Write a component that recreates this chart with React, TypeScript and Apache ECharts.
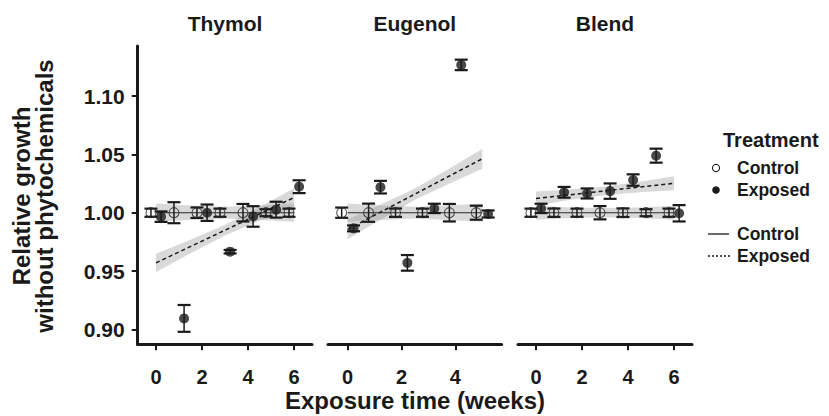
import React, { useEffect, useRef } from "react";
import * as echarts from "echarts";

// ---------------- data ----------------
const panelNames = ["Thymol", "Eugenol", "Blend"];

const weeksThymol = [0, 1, 2, 3, 4, 5, 6];
const weeksEugenol = [0, 1, 2, 3, 4, 5];
const weeksBlend = [0, 1, 2, 3, 4, 5, 6];

const thymolControl = [1.0, 1.0, 1.0, 1.0, 1.0, 1.0, 1.0];
const thymolControlErr = [0.0035, 0.009, 0.0045, 0.0035, 0.0075, 0.003, 0.0035];
const thymolExposed = [0.9966, 0.9094, 1.0, 0.9666, 0.9968, 1.0026, 1.0223];
const thymolExposedErr = [0.0045, 0.0115, 0.007, 0.0015, 0.0088, 0.0068, 0.0055];

const eugenolControl = [1.0, 1.0, 1.0, 1.0, 1.0, 1.0];
const eugenolControlErr = [0.0044, 0.0078, 0.0036, 0.0035, 0.0075, 0.006];
const eugenolExposed = [0.9866, 1.0219, 0.957, 1.0037, 1.1267, 0.9989];
const eugenolExposedErr = [0.0025, 0.0054, 0.0067, 0.004, 0.0045, 0.003];

const blendControl = [1.0, 1.0, 1.0, 1.0, 1.0, 1.0, 1.0];
const blendControlErr = [0.0035, 0.0036, 0.0035, 0.0057, 0.0037, 0.003, 0.0035];
const blendExposed = [1.0037, 1.0175, 1.0165, 1.0185, 1.028, 1.0489, 0.9995];
const blendExposedErr = [0.004, 0.0046, 0.0043, 0.0066, 0.0049, 0.006, 0.007];

// fitted lines (end points)
const thymolFitX = [0, 6];
const thymolControlFit = [1.0, 1.0];
const thymolExposedFit = [0.957, 1.013];
const eugenolFitX = [0, 5];
const eugenolControlFit = [1.0, 1.0];
const eugenolExposedFit = [0.9857, 1.0462];
const blendFitX = [0, 6];
const blendControlFit = [1.0, 1.0];
const blendExposedFit = [1.0122, 1.0252];

// confidence bands
const thymolBandX = [0, 1.5, 3, 4.5, 6];
const thymolControlLo = [0.9922, 0.9938, 0.995, 0.9938, 0.9922];
const thymolControlHi = [1.0078, 1.0062, 1.005, 1.0062, 1.0078];
const thymolExposedLo = [0.9491, 0.9652, 0.9804, 0.9932, 1.0051];
const thymolExposedHi = [0.9649, 0.9768, 0.9896, 1.0048, 1.0209];

const eugenolBandX = [0, 1.25, 2.5, 3.75, 5];
const eugenolControlLo = [0.9922, 0.9938, 0.995, 0.9938, 0.9922];
const eugenolControlHi = [1.0078, 1.0062, 1.005, 1.0062, 1.0078];
const eugenolExposedLo = [0.9772, 0.9944, 1.0112, 1.0247, 1.0377];
const eugenolExposedHi = [0.9942, 1.0072, 1.0208, 1.0375, 1.0547];

const blendBandX = [0, 1.5, 3, 4.5, 6];
const blendControlLo = [0.994, 0.9955, 0.996, 0.9955, 0.994];
const blendControlHi = [1.006, 1.0045, 1.004, 1.0045, 1.006];
const blendExposedLo = [1.0062, 1.011, 1.015, 1.0175, 1.0192];
const blendExposedHi = [1.0182, 1.02, 1.0224, 1.0265, 1.0312];

const xTicksThymol = [0, 2, 4, 6];
const xTicksEugenol = [0, 2, 4];
const xTicksBlend = [0, 2, 4, 6];
const yTicks = [0.9, 0.95, 1.0, 1.05, 1.1];

const yTitleLines = ["Relative growth", "without phytochemicals"];
const xTitle = "Exposure time (weeks)";
const legendTitle = "Treatment";
const legendLabels = ["Control", "Exposed"];

// ---------------- layout / style ----------------
const FONT = "'Liberation Sans', Arial, Helvetica, sans-serif";
const INK = "#1a1a1a";
const DODGE = 0.22;
const GRID_TOP = 46;
const GRID_H = 298.3;
const Y_MIN = 0.8872;
const Y_MAX = 1.1429;

const panels = [
  {
    left: 137.7, width: 174.3, xmin: -0.796, xmax: 6.78, ticks: xTicksThymol,
    weeks: weeksThymol, ctrl: thymolControl, ctrlErr: thymolControlErr,
    exp: thymolExposed, expErr: thymolExposedErr,
    fitX: thymolFitX, ctrlFit: thymolControlFit, expFit: thymolExposedFit,
    bandX: thymolBandX, cLo: thymolControlLo, cHi: thymolControlHi,
    eLo: thymolExposedLo, eHi: thymolExposedHi,
  },
  {
    left: 328, width: 173.6, xmin: -0.728, xmax: 5.72, ticks: xTicksEugenol,
    weeks: weeksEugenol, ctrl: eugenolControl, ctrlErr: eugenolControlErr,
    exp: eugenolExposed, expErr: eugenolExposedErr,
    fitX: eugenolFitX, ctrlFit: eugenolControlFit, expFit: eugenolExposedFit,
    bandX: eugenolBandX, cLo: eugenolControlLo, cHi: eugenolControlHi,
    eLo: eugenolExposedLo, eHi: eugenolExposedHi,
  },
  {
    left: 518, width: 174, xmin: -0.783, xmax: 6.78, ticks: xTicksBlend,
    weeks: weeksBlend, ctrl: blendControl, ctrlErr: blendControlErr,
    exp: blendExposed, expErr: blendExposedErr,
    fitX: blendFitX, ctrlFit: blendControlFit, expFit: blendExposedFit,
    bandX: blendBandX, cLo: blendControlLo, cHi: blendControlHi,
    eLo: blendExposedLo, eHi: blendExposedHi,
  },
];

function bandSeries(i: number, bx: number[], lo: number[], hi: number[]) {
  return {
    type: "custom",
    xAxisIndex: i,
    yAxisIndex: i,
    silent: true,
    z: 1,
    data: [[bx[0], lo[0]]],
    renderItem: (_p: any, api: any) => {
      const pts: number[][] = [];
      for (let k = 0; k < bx.length; k++) pts.push(api.coord([bx[k], hi[k]]));
      for (let k = bx.length - 1; k >= 0; k--) pts.push(api.coord([bx[k], lo[k]]));
      return {
        type: "polygon",
        shape: { points: pts },
        style: { fill: "rgba(150,150,150,0.36)", stroke: "none" },
      };
    },
  };
}

function errSeries(i: number, weeks: number[], mean: number[], err: number[], off: number) {
  return {
    type: "custom",
    xAxisIndex: i,
    yAxisIndex: i,
    silent: true,
    z: 3,
    dimensions: ["x", "y", "e"],
    encode: { x: 0, y: 1 },
    data: weeks.map((w, k) => [w + off, mean[k], err[k]]),
    renderItem: (_p: any, api: any) => {
      const x = api.value(0);
      const y = api.value(1);
      const e = api.value(2);
      const t = api.coord([x, y + e]);
      const b = api.coord([x, y - e]);
      const hw = 6.5;
      return {
        type: "group",
        children: [
          { type: "line", shape: { x1: t[0], y1: t[1], x2: b[0], y2: b[1] }, style: { stroke: INK, lineWidth: 1.5 } },
          { type: "line", shape: { x1: t[0] - hw, y1: t[1], x2: t[0] + hw, y2: t[1] }, style: { stroke: INK, lineWidth: 2.2 } },
          { type: "line", shape: { x1: b[0] - hw, y1: b[1], x2: b[0] + hw, y2: b[1] }, style: { stroke: INK, lineWidth: 2.2 } },
        ],
      };
    },
  };
}

function buildOption() {
  const grid: any[] = [];
  const xAxis: any[] = [];
  const yAxis: any[] = [];
  const series: any[] = [];

  panels.forEach((p, i) => {
    grid.push({ left: p.left, top: GRID_TOP, width: p.width, height: GRID_H, containLabel: false });
    xAxis.push({
      type: "value",
      gridIndex: i,
      min: p.xmin,
      max: p.xmax,
      axisLine: { show: true, onZero: false, lineStyle: { color: INK, width: 3 } },
      axisTick: { show: true, length: 6, customValues: p.ticks, lineStyle: { color: INK, width: 2 } },
      axisLabel: {
        show: true,
        customValues: p.ticks,
        fontSize: 20,
        fontWeight: "bold",
        fontFamily: FONT,
        color: INK,
        margin: 23,
        lineHeight: 20,
      },
      splitLine: { show: false },
    });
    yAxis.push({
      type: "value",
      gridIndex: i,
      min: Y_MIN,
      max: Y_MAX,
      show: i === 0,
      axisLine: { show: i === 0, onZero: false, lineStyle: { color: INK, width: 3 } },
      axisTick: { show: i === 0, length: 6, customValues: yTicks, lineStyle: { color: INK, width: 2 } },
      axisLabel: {
        show: i === 0,
        customValues: yTicks,
        formatter: (v: number) => v.toFixed(2),
        fontSize: 21,
        fontWeight: "bold",
        fontFamily: FONT,
        color: INK,
        margin: 13,
      },
      splitLine: { show: false },
    });

    series.push(bandSeries(i, p.bandX, p.cLo, p.cHi));
    series.push(bandSeries(i, p.bandX, p.eLo, p.eHi));
    series.push({
      type: "line",
      xAxisIndex: i,
      yAxisIndex: i,
      silent: true,
      z: 2,
      showSymbol: false,
      data: p.fitX.map((x, k) => [x, p.ctrlFit[k]]),
      lineStyle: { color: "#2a2a2a", width: 1.1, type: "solid" },
    });
    series.push({
      type: "line",
      xAxisIndex: i,
      yAxisIndex: i,
      silent: true,
      z: 2,
      showSymbol: false,
      data: p.fitX.map((x, k) => [x, p.expFit[k]]),
      lineStyle: { color: INK, width: 1.5, type: [4, 3] },
    });
    series.push(errSeries(i, p.weeks, p.ctrl, p.ctrlErr, -DODGE));
    series.push(errSeries(i, p.weeks, p.exp, p.expErr, DODGE));
    series.push({
      type: "scatter",
      xAxisIndex: i,
      yAxisIndex: i,
      silent: true,
      z: 4,
      symbol: "circle",
      symbolSize: 10,
      data: p.weeks.map((w, k) => [w - DODGE, p.ctrl[k]]),
      itemStyle: { color: "rgba(0,0,0,0)", borderColor: "#2a2a2a", borderWidth: 1.1 },
    });
    series.push({
      type: "scatter",
      xAxisIndex: i,
      yAxisIndex: i,
      silent: true,
      z: 4,
      symbol: "circle",
      symbolSize: 10,
      data: p.weeks.map((w, k) => [w + DODGE, p.exp[k]]),
      itemStyle: { color: INK, borderColor: INK, borderWidth: 0 },
    });
  });

  const txt = (x: number, y: number, text: string, size: number, align = "center", rotation = 0) => ({
    type: "text",
    x,
    y,
    rotation,
    silent: true,
    style: {
      text,
      fill: INK,
      font: `bold ${size}px ${FONT}`,
      textAlign: align,
      textVerticalAlign: "middle",
      verticalAlign: "middle",
      lineHeight: size,
    },
  });

  const graphic: any[] = [
    txt(225, 23, panelNames[0], 21),
    txt(414.8, 23, panelNames[1], 21),
    txt(605, 23, panelNames[2], 21),
    txt(21, 196, yTitleLines[0], 24, "center", Math.PI / 2),
    txt(44.5, 196, yTitleLines[1], 24, "center", Math.PI / 2),
    txt(415, 400, xTitle, 24),
    txt(723, 140, legendTitle, 20, "left"),
    {
      type: "circle",
      silent: true,
      shape: { cx: 716, cy: 168, r: 3.6 },
      style: { fill: "none", stroke: INK, lineWidth: 1.1 },
    },
    txt(737, 168, legendLabels[0], 17.5, "left"),
    {
      type: "circle",
      silent: true,
      shape: { cx: 716, cy: 190, r: 3.8 },
      style: { fill: INK, stroke: "none" },
    },
    txt(737, 190, legendLabels[1], 17.5, "left"),
    {
      type: "line",
      silent: true,
      shape: { x1: 708, y1: 234, x2: 729, y2: 234 },
      style: { stroke: INK, lineWidth: 1.3 },
    },
    txt(737, 234, legendLabels[0], 17.5, "left"),
    {
      type: "line",
      silent: true,
      shape: { x1: 708, y1: 256, x2: 731, y2: 256 },
      style: { stroke: INK, lineWidth: 1.3, lineDash: [2, 2] },
    },
    txt(737, 256, legendLabels[1], 17.5, "left"),
  ];

  return {
    animation: false,
    backgroundColor: "#ffffff",
    grid,
    xAxis,
    yAxis,
    series,
    graphic,
  };
}

export default function App() {
  const ref = useRef<HTMLDivElement>(null);
  useEffect(() => {
    if (!ref.current) return;
    const chart = echarts.init(ref.current, undefined, { renderer: "svg" });
    chart.setOption(buildOption() as any);
    return () => chart.dispose();
  }, []);
  return (
    <div
      ref={ref}
      style={{ position: "absolute", left: 0, top: 0, width: 829, height: 416 }}
    />
  );
}
